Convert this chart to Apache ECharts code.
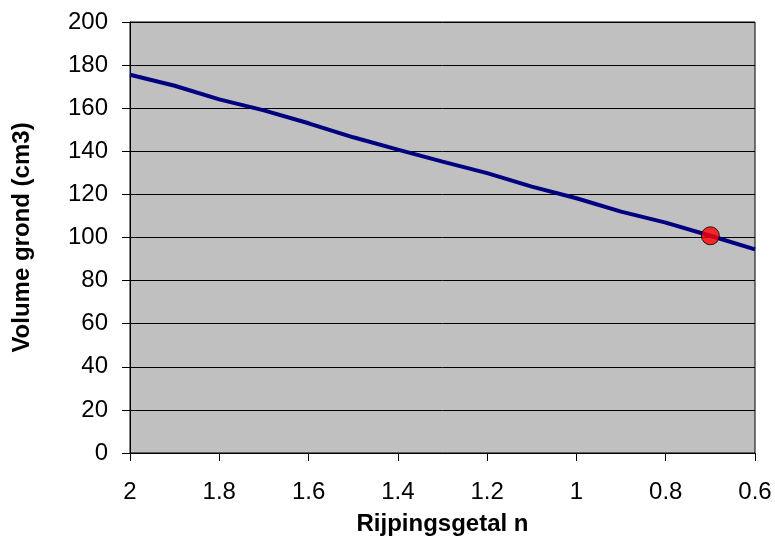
<!DOCTYPE html>
<html>
<head>
<meta charset="utf-8">
<script src="https://cdn.jsdelivr.net/npm/echarts@6/dist/echarts.min.js"></script>
<style>html,body{margin:0;padding:0;background:#fff}#c{width:775px;height:543px}</style>
</head>
<body>
<div id="c"></div>
<script>
const nValues = [2.0, 1.9, 1.8, 1.7, 1.6, 1.5, 1.4, 1.3, 1.2, 1.1, 1.0, 0.9, 0.8, 0.7, 0.6];
const volumeValues = [175.5, 170.4, 164.1, 159.0, 153.0, 146.5, 140.8, 135.2, 129.9, 123.6, 118.2, 112.0, 106.9, 100.8, 94.5];
const markedPoint = [0.7, 100.8];
const xTitle = 'Rijpingsgetal n';
const yTitle = 'Volume grond (cm3)';

const chart = echarts.init(document.getElementById('c'), null, {renderer: 'canvas'});
const font = 'Liberation Sans, Arial, sans-serif';
chart.setOption({
  animation: false,
  backgroundColor: '#ffffff',
  grid: {left: 130, right: 20, top: 22, bottom: 90, show: true, backgroundColor: '#c0c0c0', borderColor: '#000', borderWidth: 1},
  xAxis: {
    type: 'value', min: 0.6, max: 2, interval: 0.2, inverse: true,
    name: xTitle, nameLocation: 'middle', nameGap: 59,
    nameTextStyle: {fontFamily: font, fontSize: 24, fontWeight: 'bold', color: '#000'},
    axisLine: {lineStyle: {color: '#000', width: 1}},
    axisTick: {show: true, length: 8, lineStyle: {color: '#000'}},
    axisLabel: {fontFamily: font, fontSize: 24, color: '#000', margin: 27},
    splitLine: {show: false}
  },
  yAxis: {
    type: 'value', min: 0, max: 200, interval: 20,
    name: yTitle, nameLocation: 'middle', nameGap: 96,
    nameTextStyle: {fontFamily: font, fontSize: 24, fontWeight: 'bold', color: '#000'},
    axisLine: {show: true, lineStyle: {color: '#000', width: 1}},
    axisTick: {show: true, length: 8, lineStyle: {color: '#000'}},
    axisLabel: {fontFamily: font, fontSize: 24, color: '#000', margin: 22},
    splitLine: {show: true, lineStyle: {color: '#000', width: 1}}
  },
  series: [
    {
      type: 'line',
      data: nValues.map((n, i) => [n, volumeValues[i]]),
      showSymbol: false, symbol: 'none',
      lineStyle: {color: '#000080', width: 4},
      z: 2
    },
    {
      type: 'scatter',
      data: [markedPoint],
      symbol: 'circle', symbolSize: 18,
      itemStyle: {color: '#ff0000', borderColor: '#000', borderWidth: 1},
      z: 3
    }
  ]
});
</script>
</body>
</html>
